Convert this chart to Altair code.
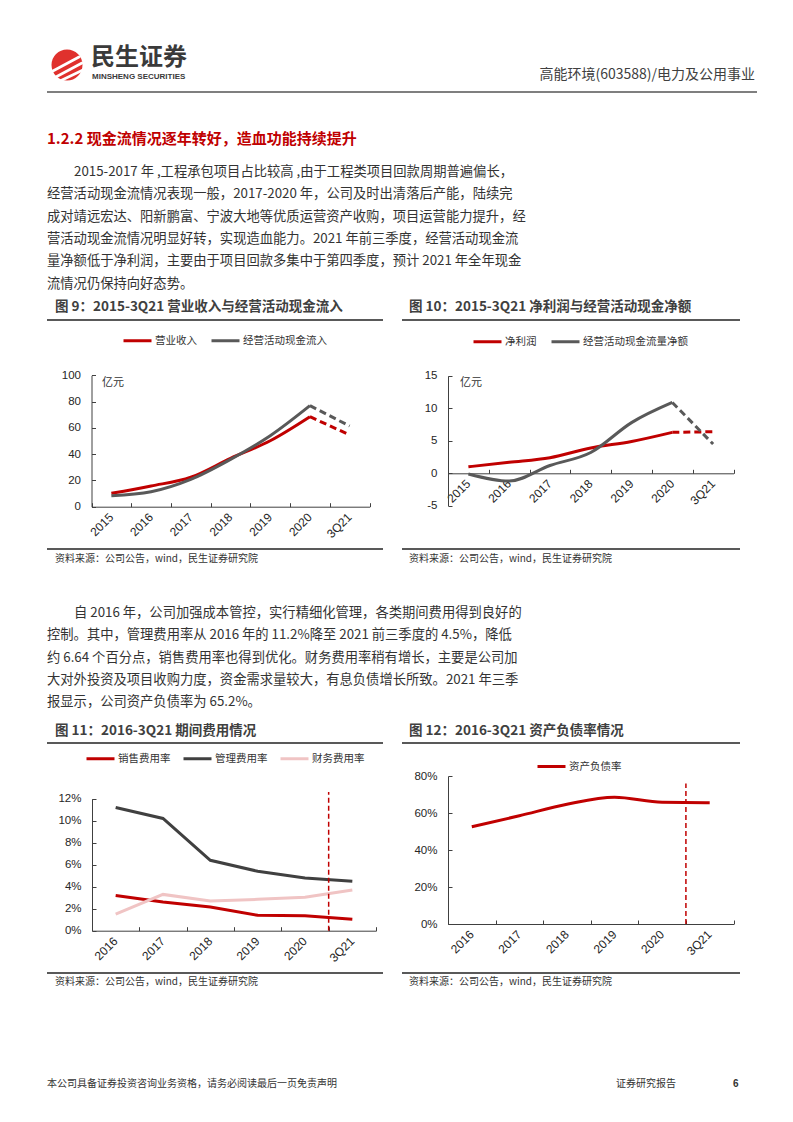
import altair as alt
import pandas as pd

# ---------------- data ----------------
cats_a = ["2015", "2016", "2017", "2018", "2019", "2020", "3Q21"]
names9 = ["营业收入", "经营活动现金流入"]
revenue = [10.2, 15.8, 22.4, 36.8, 50.2, 68.5, 54.6]
cash_inflow = [8.4, 11.4, 20.8, 36.0, 54.0, 76.9, 61.4]

names10 = ["净利润", "经营活动现金流量净额"]
net_profit = [1.0, 1.7, 2.4, 3.9, 4.9, 6.3, 6.4]
net_cashflow = [-0.1, -1.2, 1.2, 3.2, 7.8, 10.9, 4.5]

cats_b = ["2016", "2017", "2018", "2019", "2020", "3Q21"]
names11 = ["销售费用率", "管理费用率", "财务费用率"]
sales_rate = [0.032, 0.026, 0.0215, 0.014, 0.0136, 0.0103]
admin_rate = [0.112, 0.102, 0.064, 0.054, 0.048, 0.045]
finance_rate = [0.015, 0.033, 0.027, 0.0285, 0.0305, 0.037]

names12 = ["资产负债率"]
debt_ratio = [0.526, 0.585, 0.647, 0.685, 0.658, 0.656]

ticks9 = [0, 20, 40, 60, 80, 100]
ticks10 = [-5, 0, 5, 10, 15]
ticks11 = [0, 0.02, 0.04, 0.06, 0.08, 0.10, 0.12]
ticks12 = [0, 0.2, 0.4, 0.6, 0.8]

marker11 = {"cat": ["3Q21"], "lo": [0.0], "hi": [0.126]}
marker12 = {"cat": ["3Q21"], "lo": [0.0], "hi": [0.76]}

header_right = "高能环境(603588)/电力及公用事业"
heading = "1.2.2 现金流情况逐年转好，造血功能持续提升"
para1 = [
    "2015-2017 年 ,工程承包项目占比较高 ,由于工程类项目回款周期普遍偏长，",
    "经营活动现金流情况表现一般，2017-2020 年，公司及时出清落后产能，陆续完",
    "成对靖远宏达、阳新鹏富、宁波大地等优质运营资产收购，项目运营能力提升，经",
    "营活动现金流情况明显好转，实现造血能力。2021 年前三季度，经营活动现金流",
    "量净额低于净利润，主要由于项目回款多集中于第四季度，预计 2021 年全年现金",
    "流情况仍保持向好态势。",
]
para2 = [
    "自 2016 年，公司加强成本管控，实行精细化管理，各类期间费用得到良好的",
    "控制。其中，管理费用率从 2016 年的 11.2%降至 2021 前三季度的 4.5%，降低",
    "约 6.64 个百分点，销售费用率也得到优化。财务费用率稍有增长，主要是公司加",
    "大对外投资及项目收购力度，资金需求量较大，有息负债增长所致。2021 年三季",
    "报显示，公司资产负债率为 65.2%。",
]
title9 = "图 9：2015-3Q21 营业收入与经营活动现金流入"
title10 = "图 10：2015-3Q21 净利润与经营活动现金净额"
title11 = "图 11：2016-3Q21 期间费用情况"
title12 = "图 12：2016-3Q21 资产负债率情况"
source = "资料来源：公司公告，wind，民生证券研究院"
unit = "亿元"
footer_left = "本公司具备证券投资咨询业务资格，请务必阅读最后一页免责声明"
footer_mid = "证券研究报告"
footer_page = "6"

# ---------------- style ----------------
CJK = "Noto Sans CJK SC"
LAT = "Liberation Sans"
W, H = 777, 1106
M = 8  # page margin
RED = "#C00000"
TXT = "#333333"
TTL = "#404040"
AXC = "#404040"
LBC = "#262626"

base = alt.Chart(pd.DataFrame({"k": [0]}))


def text(s, x, y, size, color=TXT, weight="normal", align="left", font=CJK):
    return base.mark_text(text=s, font=font, fontSize=size, fontWeight=weight,
                          color=color, align=align, baseline="middle").encode(
        x=alt.value(x - M), y=alt.value(y - M))


def hline(x1, x2, y, color, width):
    return base.mark_rule(color=color, strokeWidth=width).encode(
        x=alt.value(x1 - M), x2=alt.value(x2 - M), y=alt.value(y - M))


def seg(x1, y1, x2, y2, color, width):
    return base.mark_rule(color=color, strokeWidth=width, strokeCap="round").encode(
        x=alt.value(x1 - M), y=alt.value(y1 - M), x2=alt.value(x2 - M), y2=alt.value(y2 - M))


def long_df(cats, names, series):
    rows = []
    for n, vals in zip(names, series):
        for c, v in zip(cats, vals):
            rows.append({"cat": c, "series": n, "value": v})
    return pd.DataFrame(rows)


def figure(cats, names, colors, series, ydom, yticks, yfmt, xr, yr, leg, colpad,
           dash_from=None, marker=None, interp="monotone"):
    xr = [xr[0] - M, xr[1] - M]
    yr = [yr[0] - M, yr[1] - M]
    df = long_df(cats, names, series)
    xs = alt.Scale(type="band", domain=cats, range=xr, paddingInner=0, paddingOuter=0)
    ys = alt.Scale(type="linear", domain=list(ydom), range=yr, nice=False, zero=False)
    cs = alt.Scale(domain=names, range=colors)
    y_zero = yr[0] + (0 - ydom[0]) / (ydom[1] - ydom[0]) * (yr[1] - yr[0])

    x_axis = alt.Axis(orient="bottom", offset=y_zero - H, title=None, grid=False, ticks=False,
                      domainColor=AXC, domainWidth=1, labelAngle=-45, labelAlign="right",
                      labelBaseline="middle", labelPadding=8, labelFont=LAT, labelFontSize=12,
                      labelColor=LBC)
    y_axis = alt.Axis(orient="left", offset=-xr[0], values=yticks, format=yfmt, title=None,
                      grid=False, ticks=False, domainColor=AXC, domainWidth=1, labelPadding=11,
                      labelFont=LAT, labelFontSize=11.5, labelColor=LBC,
                      labelExpr="replace(datum.label, '\u2212', '-')")
    x_ticks = alt.Axis(orient="top", offset=-y_zero, labels=False, domain=False, ticks=True,
                       tickSize=4, tickBand="extent", tickColor=AXC, title=None, grid=False)
    y_ticks = alt.Axis(orient="right", offset=xr[0] - W, values=yticks, labels=False,
                       domain=False, ticks=True, tickSize=4, tickColor=AXC, title=None, grid=False)
    legend = alt.Legend(orient="none", legendX=leg[0] - M, legendY=leg[1] - M - 14,
                        direction="horizontal", title=None, symbolType="stroke", symbolSize=784,
                        symbolStrokeWidth=3, labelFont=CJK, labelFontSize=10.5, labelColor=TXT,
                        labelOffset=2, columnPadding=colpad, padding=0)

    if dash_from is not None:
        i = cats.index(dash_from)
        solid = df[df["cat"].isin(cats[: i + 1])]
        dashed = df[df["cat"].isin(cats[i:])]
    else:
        solid, dashed = df, None

    layers = [
        alt.Chart(solid).mark_line(strokeWidth=3, interpolate=interp).encode(
            x=alt.X("cat:N", sort=cats, scale=xs, axis=x_axis),
            y=alt.Y("value:Q", scale=ys, axis=y_axis),
            color=alt.Color("series:N", scale=cs, legend=legend),
        ),
        alt.Chart(df).mark_line(opacity=0).encode(
            x=alt.X("cat:N", sort=cats, scale=xs, axis=x_ticks),
            y=alt.Y("value:Q", scale=ys, axis=y_ticks),
        ),
    ]
    if dashed is not None:
        layers.append(
            alt.Chart(dashed).mark_line(strokeWidth=3, strokeDash=[7, 4]).encode(
                x=alt.X("cat:N", sort=cats, scale=xs, axis=None),
                y=alt.Y("value:Q", scale=ys, axis=None),
                color=alt.Color("series:N", scale=cs, legend=None),
            )
        )
    if marker is not None:
        layers.append(
            alt.Chart(pd.DataFrame(marker)).mark_rule(color=RED, strokeWidth=1.5,
                                                       strokeDash=[5, 3]).encode(
                x=alt.X("cat:N", sort=cats, scale=xs, axis=None, bandPosition=0),
                y=alt.Y("lo:Q", scale=ys, axis=None),
                y2="hi:Q",
            )
        )
    return layers


layers = []

# ---------- header ----------
layers.append(base.mark_point(shape="circle", filled=True, size=960, color="#E0312D",
                              opacity=1, strokeWidth=0).encode(x=alt.value(67 - M), y=alt.value(65 - M)))
layers.append(seg(51, 72, 79, 57, "white", 2.6))
layers.append(seg(54, 78, 82, 63, "white", 2.6))
layers.append(seg(60, 81, 83, 70, "white", 2.6))
layers.append(text("民生证券", 91, 58, 24, color="#3a3a3a", weight="bold"))
layers.append(text("MINSHENG SECURITIES", 92, 77, 8, color="#3a3a3a", weight="bold", font=LAT))
layers.append(text(header_right, 755, 75, 14, color=TTL, align="right"))
layers.append(hline(47, 757, 92, "#7F7F7F", 2))

# ---------- heading + paragraph 1 ----------
layers.append(text(heading, 47, 139, 15, color=RED, weight="bold"))
for i, line in enumerate(para1):
    layers.append(text(line, 74 if i == 0 else 47, 172 + i * 22.3, 13.3))

# ---------- figure 9 ----------
layers.append(text(title9, 55, 307, 13.5, color=TTL, weight="bold"))
layers.append(hline(47, 383, 320, "#595959", 2))
layers.append(text(unit, 102, 383, 11))
layers += figure(cats_a, names9, [RED, "#595959"], [revenue, cash_inflow], (0, 100), ticks9, "d",
                 (91.5, 369.5), (506.7, 375.3), (122, 339), 8, dash_from="2020")
layers.append(hline(47, 383, 549, "#595959", 2))
layers.append(text(source, 55, 559, 10))

# ---------- figure 10 ----------
layers.append(text(title10, 409, 307, 13.5, color=TTL, weight="bold"))
layers.append(hline(402, 740, 320, "#595959", 2))
layers.append(text(unit, 460, 383, 11))
layers += figure(cats_a, names10, [RED, "#595959"], [net_profit, net_cashflow], (-5, 15), ticks10,
                 "d", (448, 733.5), (505.8, 375.8), (472, 340), 8, dash_from="2020")
layers.append(hline(402, 740, 549, "#595959", 2))
layers.append(text(source, 409, 559, 10))

# ---------- paragraph 2 ----------
for i, line in enumerate(para2):
    layers.append(text(line, 74 if i == 0 else 47, 613 + i * 22.3, 13.3))

# ---------- figure 11 ----------
layers.append(text(title11, 55, 731, 13.5, color=TTL, weight="bold"))
layers.append(hline(47, 383, 743, "#595959", 2))
layers += figure(cats_b, names11, [RED, "#404040", "#F0C4C4"], [sales_rate, admin_rate, finance_rate],
                 (0, 0.12), ticks11, ".0%", (92, 376), (930.7, 798.7), (85, 757), 6,
                 marker=marker11, interp="linear")
layers.append(hline(47, 383, 973, "#595959", 2))
layers.append(text(source, 55, 982, 10))

# ---------- figure 12 ----------
layers.append(text(title12, 409, 731, 13.5, color=TTL, weight="bold"))
layers.append(hline(402, 740, 743, "#595959", 2))
layers += figure(cats_b, names12, [RED], [debt_ratio], (0, 0.8), ticks12, ".0%",
                 (448, 733.5), (924, 776), (536, 765), 10, marker=marker12)
layers.append(hline(402, 740, 973, "#595959", 2))
layers.append(text(source, 409, 982, 10))

# ---------- footer ----------
layers.append(text(footer_left, 47, 1084, 10))
layers.append(text(footer_mid, 616, 1084, 10))
layers.append(text(footer_page, 733, 1084, 10, weight="bold", font=LAT))

chart = alt.layer(*layers).resolve_scale(
    x="independent", y="independent", color="independent"
).resolve_axis(
    x="independent", y="independent"
).resolve_legend(
    color="independent"
).properties(
    width=W, height=H, autosize=alt.AutoSizeParams(type="none"), padding=0, background="white"
).configure_view(stroke=None)

chart.save("out.html", embed_options={"renderer": "svg", "actions": False})
